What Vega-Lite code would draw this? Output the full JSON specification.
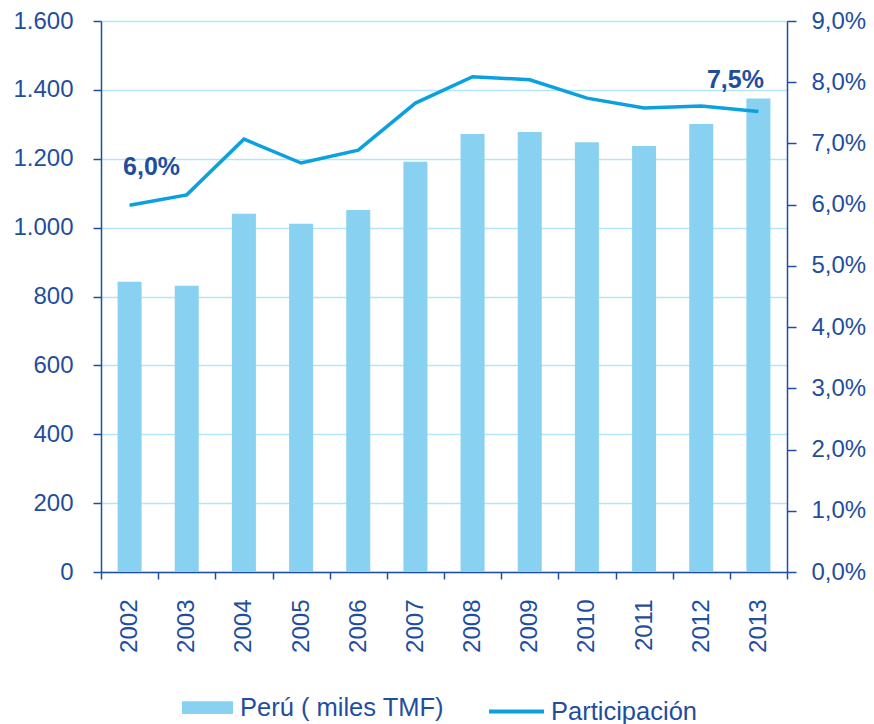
{
  "$schema": "https://vega.github.io/schema/vega-lite/v6.json",
  "width": 686,
  "height": 551,
  "autosize": {"type": "none"},
  "padding": {"left": 101, "top": 21, "right": 87, "bottom": 152},
  "background": "white",
  "config": {
    "locale": {"number": {"decimal": ",", "thousands": ".", "grouping": [3], "currency": ["", ""]}},
    "font": "Liberation Sans",
    "view": {"stroke": null},
    "axis": {
      "labelFont": "Liberation Sans",
      "labelFontSize": 24,
      "labelColor": "#1F4E9E",
      "domainColor": "#1F4E9E",
      "domainWidth": 1.5,
      "tickColor": "#1F4E9E",
      "tickWidth": 1.5,
      "title": null
    },
    "legend": {
      "labelFont": "Liberation Sans",
      "labelFontSize": 25.5,
      "labelColor": "#1F4E9E",
      "labelLimit": 0,
      "padding": 0,
      "title": null
    }
  },
  "data": {
    "values": [
      {"year": "2002", "peru": 843, "part": 0.0599},
      {"year": "2003", "peru": 831, "part": 0.0616},
      {"year": "2004", "peru": 1040, "part": 0.0707},
      {"year": "2005", "peru": 1011, "part": 0.0668},
      {"year": "2006", "peru": 1051, "part": 0.0689},
      {"year": "2007", "peru": 1191, "part": 0.0766},
      {"year": "2008", "peru": 1272, "part": 0.0809},
      {"year": "2009", "peru": 1278, "part": 0.0804},
      {"year": "2010", "peru": 1248, "part": 0.0774},
      {"year": "2011", "peru": 1237, "part": 0.0758},
      {"year": "2012", "peru": 1301, "part": 0.0761},
      {"year": "2013", "peru": 1375, "part": 0.0752}
    ]
  },
  "layer": [
    {
      "mark": {"type": "bar", "width": {"band": 0.42}},
      "encoding": {
        "x": {
          "field": "year",
          "type": "nominal",
          "scale": {"paddingInner": 0, "paddingOuter": 0},
          "axis": {
            "labelAngle": -90,
            "tickBand": "extent",
            "tickSize": 7,
            "labelPadding": 20,
            "grid": false
          }
        },
        "y": {
          "field": "peru",
          "type": "quantitative",
          "scale": {"domain": [0, 1600], "nice": false},
          "axis": {
            "orient": "left",
            "values": [0, 200, 400, 600, 800, 1000, 1200, 1400, 1600],
            "format": ",.0f",
            "grid": true,
            "gridColor": "#B3E5F8",
            "gridWidth": 1.5,
            "tickSize": 8,
            "labelPadding": 20
          }
        },
        "color": {
          "datum": "Perú ( miles TMF)",
          "scale": {"range": ["#89D1F1"]},
          "legend": {
            "orient": "none",
            "legendX": 81,
            "legendY": 661,
            "symbolType": "M-1,-0.25H1V0.25H-1Z",
            "symbolSize": 2601,
            "symbolStrokeWidth": 0,
            "labelOffset": 7
          }
        }
      }
    },
    {
      "layer": [
        {
          "mark": {"type": "line", "strokeWidth": 3.5},
          "encoding": {
            "x": {"field": "year", "type": "nominal"},
            "y": {
              "field": "part",
              "type": "quantitative",
              "scale": {"domain": [0, 0.09], "nice": false},
              "axis": {
                "orient": "right",
                "values": [0, 0.01, 0.02, 0.03, 0.04, 0.05, 0.06, 0.07, 0.08, 0.09],
                "format": ".1%",
                "grid": false,
                "tickSize": 9,
                "labelPadding": 15
              }
            },
            "stroke": {
              "datum": "Participación",
              "scale": {"range": ["#0BA0E0"]},
              "legend": {
                "orient": "none",
                "legendX": 386,
                "legendY": 661,
                "symbolType": "stroke",
                "symbolSize": 3025,
                "symbolStrokeWidth": 4,
                "labelOffset": 5
              }
            }
          }
        },
        {
          "transform": [{"filter": "datum.year == '2002'"}],
          "mark": {"type": "text", "fontWeight": "bold", "fontSize": 25, "color": "#1F4E9E", "dx": 22, "dy": -38},
          "encoding": {
            "x": {"field": "year", "type": "nominal"},
            "y": {"field": "part", "type": "quantitative"},
            "text": {"field": "part", "type": "quantitative", "format": ".1%"}
          }
        },
        {
          "transform": [{"filter": "datum.year == '2013'"}],
          "mark": {"type": "text", "fontWeight": "bold", "fontSize": 25, "color": "#1F4E9E", "dx": -23, "dy": -32},
          "encoding": {
            "x": {"field": "year", "type": "nominal"},
            "y": {"field": "part", "type": "quantitative"},
            "text": {"field": "part", "type": "quantitative", "format": ".1%"}
          }
        }
      ]
    }
  ],
  "resolve": {"scale": {"y": "independent"}}
}
